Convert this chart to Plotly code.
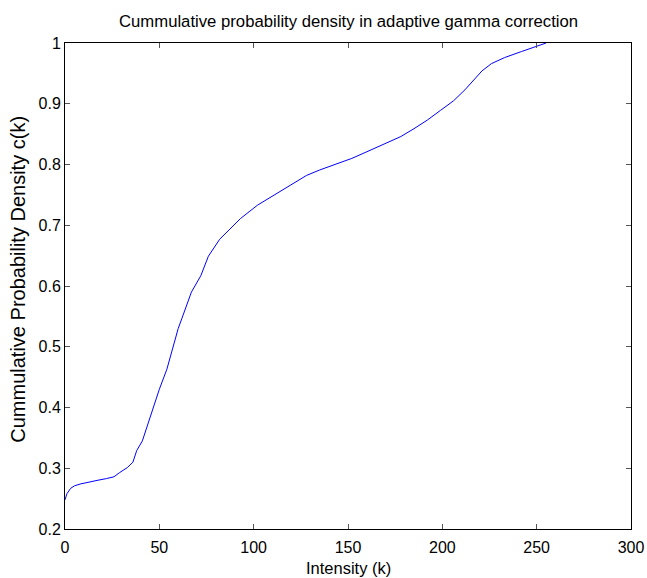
import plotly.graph_objects as go

intensity = [0, 1, 3, 5, 8, 12, 17, 22, 26, 29, 33, 36, 38, 41, 43, 45, 47, 50, 54, 57,
             60, 62, 64, 67, 72, 76, 82, 88, 93, 102, 111, 120, 128, 135, 143, 152, 160,
             169, 178, 185, 192, 199, 206, 212, 217, 221, 226, 233, 242, 250, 255]
cdf = [0.248, 0.258, 0.267, 0.271, 0.274, 0.277, 0.280, 0.283, 0.286, 0.293, 0.301, 0.310,
       0.329, 0.345, 0.364, 0.386, 0.405, 0.430, 0.463, 0.497, 0.530, 0.547, 0.565, 0.590,
       0.617, 0.649, 0.677, 0.696, 0.711, 0.733, 0.750, 0.768, 0.782, 0.791, 0.800, 0.810,
       0.821, 0.834, 0.846, 0.859, 0.873, 0.889, 0.905, 0.923, 0.941, 0.954, 0.966, 0.976,
       0.986, 0.994, 1.0]

x_ticks = [0, 50, 100, 150, 200, 250, 300]
y_ticks = [0.2, 0.3, 0.4, 0.5, 0.6, 0.7, 0.8, 0.9, 1.0]
y_tick_labels = ["0.2", "0.3", "0.4", "0.5", "0.6", "0.7", "0.8", "0.9", "1"]

chart_title = "Cummulative probability density in adaptive gamma correction"
x_title = "Intensity (k)"
y_title = "Cummulative Probability Density c(k)"

FAM = "Liberation Sans, Arial, sans-serif"

fig = go.Figure()
fig.add_trace(go.Scatter(x=intensity, y=cdf, mode="lines",
                         line=dict(color="#0000ff", width=1)))

tick_font = dict(family=FAM, size=16, color="black")
axis_common = dict(showline=True, linecolor="black", linewidth=1, mirror="ticks",
                   ticks="inside", ticklen=5, tickcolor="#555555", tickwidth=1,
                   showgrid=False, zeroline=False, tickfont=tick_font, automargin=False)

fig.update_layout(
    width=647, height=578,
    margin=dict(l=65, r=16, t=43, b=49),
    paper_bgcolor="white", plot_bgcolor="white",
    showlegend=False,
    xaxis=dict(range=[0, 300], tickvals=x_ticks, ticklabelstandoff=4, **axis_common),
    yaxis=dict(range=[0.2, 1.0], tickvals=y_ticks, ticktext=y_tick_labels, **axis_common),
    annotations=[
        dict(text=chart_title, xref="paper", yref="paper", x=0.5, y=1.044,
             xanchor="center", yanchor="middle", showarrow=False,
             font=dict(family=FAM, size=16.7, color="black")),
        dict(text=x_title, xref="paper", yref="paper", x=0.5, y=-0.0803,
             xanchor="center", yanchor="middle", showarrow=False,
             font=dict(family=FAM, size=16.5, color="black")),
        dict(text=y_title, xref="paper", yref="paper", x=-0.083, y=0.513,
             xanchor="center", yanchor="middle", showarrow=False, textangle=-90,
             font=dict(family=FAM, size=20, color="black")),
    ],
)

fig.write_html("out.html", config={"displayModeBar": False},
               post_script="document.body.style.margin='0';document.body.style.overflow='hidden';")
